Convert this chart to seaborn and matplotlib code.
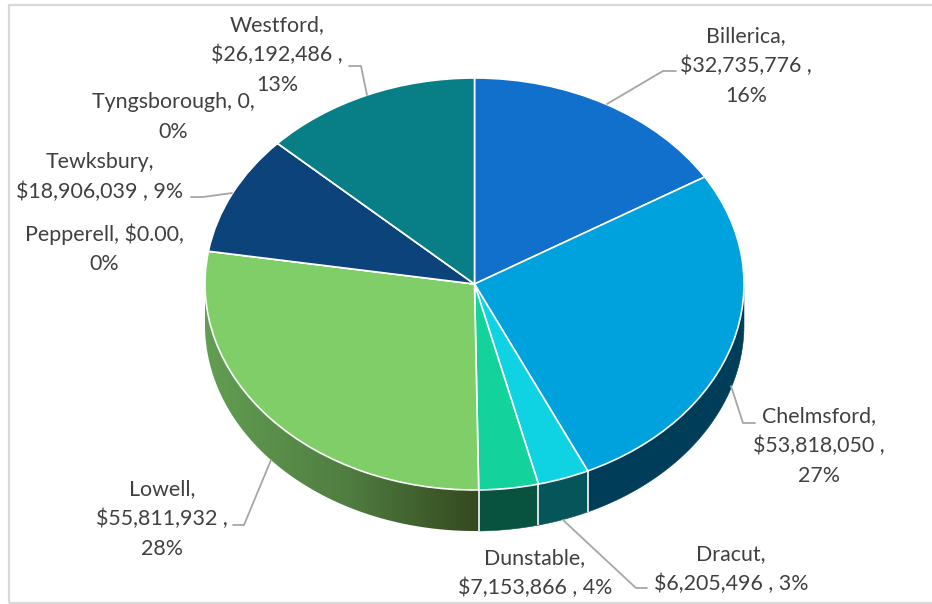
import numpy as np
import matplotlib
matplotlib.use("Agg")
import matplotlib.pyplot as plt
from matplotlib.patches import Rectangle, Polygon
from matplotlib.lines import Line2D
import seaborn as sns

towns = ["Billerica", "Chelmsford", "Dracut", "Dunstable", "Lowell",
         "Pepperell", "Tewksbury", "Tyngsborough", "Westford"]
values = [32735776, 53818050, 6205496, 7153866, 55811932, 0, 18906039, 0, 26192486]
top_colors = ["#1170CC", "#00A2DE", "#0FD3E2", "#14D29C", "#7FCE68",
              "#5B9BD5", "#0C437B", "#2AB0C0", "#087F86"]
side_colors = ["#0A4378", "#003D58", "#05555A", "#07533F", None,
               "#36608A", "#072848", "#196A73", "#054C50"]
lowell_side = ["#629E52", "#517F42", "#34491F"]
labels = ["Billerica,\n$32,735,776 ,\n16%", "Chelmsford,\n$53,818,050 ,\n27%",
          "Dracut,\n$6,205,496 , 3%", "Dunstable,\n$7,153,866 , 4%",
          "Lowell,\n$55,811,932 ,\n28%", "Pepperell, $0.00,\n0%",
          "Tewksbury,\n$18,906,039 , 9%", "Tyngsborough, 0,\n0%",
          "Westford,\n$26,192,486 ,\n13%"]
label_px = [(746, 66), (819, 446), (731, 569), (535, 573), (162, 519),
            (104, 249), (100, 177), (173, 117), (277, 55)]
leaders_px = [[(676, 71), (663, 71), (607, 104)],
              [(755, 423), (743, 423), (731, 386)],
              [(647, 588), (636, 588), (563, 520)],
              [(233, 525), (244, 525), (271, 460)],
              [(191, 197), (203, 197), (232, 193)],
              [(349, 66), (361, 66), (367, 95)]]

W, H = 932, 604
CX, CY, RX, RY, DEPTH = 474.5, 284, 269.5, 206, 41

sns.set_theme(style="white")
plt.rcParams["font.family"] = ["Lato", "DejaVu Sans"]
fig = plt.figure(figsize=(W / 100, H / 100), dpi=100, facecolor="white")
ax = fig.add_axes([0, 0, 1, 1])

# Chart frame
fig.add_artist(Rectangle((8.5 / W, 1 - 603 / H), (W + 20) / W, 598.5 / H,
                         transform=fig.transFigure, fill=False,
                         edgecolor="#D9D9D9", linewidth=1.6))

# Side wall of the disc, from the slice shares
fractions = np.array(values, dtype=float) / np.sum(values)
edges = np.concatenate([[0], np.cumsum(fractions)]) * 2 * np.pi
d = DEPTH / RY


def wall_points(a0, a1):
    t = np.linspace(a0, a1, 120)
    xs = np.sin(t)
    ys = np.cos(t)
    return np.column_stack([np.r_[xs, xs[::-1]], np.r_[ys, ys[::-1] - d]])


for i, town in enumerate(towns):
    a0 = max(edges[i], np.pi / 2)
    a1 = min(edges[i + 1], 3 * np.pi / 2)
    if a1 <= a0:
        continue
    pts = wall_points(a0, a1)
    if town == "Lowell":
        # horizontal shading: bright at the left end, dark at the front
        cmap = sns.blend_palette(lowell_side, as_cmap=True)
        clip = Polygon(pts, closed=True, transform=ax.transData,
                       facecolor="none", edgecolor="none")
        ax.add_patch(clip)
        img = ax.imshow(np.linspace(0, 1, 400).reshape(1, -1), cmap=cmap,
                        aspect="auto", zorder=1, interpolation="bilinear",
                        extent=(pts[:, 0].min(), pts[:, 0].max(),
                                pts[:, 1].min(), pts[:, 1].max()))
        img.set_clip_path(clip)
    else:
        ax.add_patch(Polygon(pts, closed=True, facecolor=side_colors[i],
                             edgecolor=side_colors[i], linewidth=0.4, zorder=1))

# White seams on the wall
for a in edges[1:]:
    if np.pi / 2 < a < 3 * np.pi / 2 and np.isclose(a, edges).sum() == 1:
        ax.plot([np.sin(a)] * 2, [np.cos(a), np.cos(a) - d], color="#E8EEEE",
                lw=1.3, zorder=2, solid_capstyle="butt")

# Top face
ax.pie(values, colors=top_colors, startangle=90, counterclock=False, radius=1,
       wedgeprops=dict(edgecolor="white", linewidth=1.2, zorder=3))
ax.set_aspect("auto")
ax.set_xlim(-CX / RX, (W - CX) / RX)
ax.set_ylim(-(H - CY) / RY, CY / RY)
ax.axis("off")

# Leader lines and labels in pixel placement
for path in leaders_px:
    xs = [p[0] / W for p in path]
    ys = [1 - p[1] / H for p in path]
    fig.add_artist(Line2D(xs, ys, color="#A6A6A6", lw=1.3,
                          transform=fig.transFigure))
for text, (px, py) in zip(labels, label_px):
    fig.text(px / W, 1 - py / H, text, ha="center", va="center",
             color="#404040", fontsize=15.4, linespacing=1.58)

fig.savefig("out.png", dpi=100)
